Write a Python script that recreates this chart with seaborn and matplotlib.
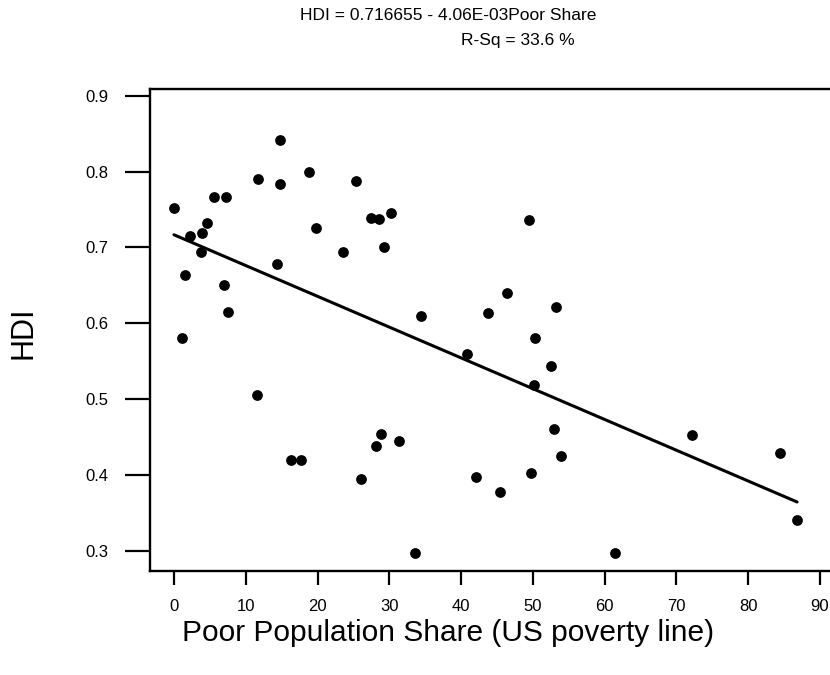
import matplotlib
matplotlib.use("Agg")
import numpy as np
import pandas as pd
import matplotlib.pyplot as plt
import seaborn as sns

# values
poor_share = [0.0, 2.2, 3.9, 4.6, 3.7, 5.6, 7.2, 11.7, 14.8, 14.8,
              18.8, 19.8, 25.4, 27.4, 28.6, 30.2, 29.3, 23.6, 14.3, 1.6,
              49.4, 46.4, 53.2, 34.4, 43.7, 50.3, 52.5, 40.8, 50.2, 52.9,
              28.8, 28.2, 31.4, 7.0, 7.5, 1.1, 11.5, 16.3, 17.7, 26.1,
              53.9, 72.1, 84.4, 86.8, 61.4, 33.6, 42.1, 45.4, 49.7]
hdi = [0.752, 0.715, 0.719, 0.732, 0.694, 0.766, 0.766, 0.790, 0.842, 0.783,
       0.800, 0.726, 0.788, 0.739, 0.737, 0.746, 0.701, 0.694, 0.678, 0.663,
       0.736, 0.640, 0.622, 0.609, 0.613, 0.580, 0.544, 0.559, 0.519, 0.461,
       0.454, 0.438, 0.445, 0.651, 0.615, 0.581, 0.505, 0.420, 0.420, 0.395,
       0.425, 0.452, 0.429, 0.341, 0.297, 0.297, 0.397, 0.378, 0.402]

# fitted regression from the chart header
intercept = 0.716655
slope = -4.06e-03
r_sq = 33.6

x_ticks = [0, 10, 20, 30, 40, 50, 60, 70, 80, 90]
y_ticks = [0.3, 0.4, 0.5, 0.6, 0.7, 0.8, 0.9]

sns.set_theme(style="white")
plt.rcParams['font.family'] = ['Liberation Sans', 'DejaVu Sans']
plt.rcParams['text.color'] = 'black'
plt.rcParams['axes.labelcolor'] = 'black'

df = pd.DataFrame({"poor": poor_share, "hdi": hdi})
fit_x = np.array([min(poor_share), max(poor_share)])
fit = pd.DataFrame({"poor": fit_x, "hdi": intercept + slope * fit_x})

fig = plt.figure(figsize=(8.3, 6.75), dpi=100)
ax = fig.add_axes([150 / 830, 1 - 571 / 675, 680 / 830, 482 / 675])

sns.scatterplot(data=df, x="poor", y="hdi", ax=ax, color="black",
                s=60, linewidth=0)
sns.lineplot(data=fit, x="poor", y="hdi", ax=ax, color="black", linewidth=2.2)

ax.set_xlim(-3.34, 91.39)
ax.set_ylim(0.2732, 0.9089)
ax.set_xticks(x_ticks)
ax.set_yticks(y_ticks)
ax.set_yticklabels([f"{v:.1f}" for v in y_ticks])

for side in ["left", "top", "bottom"]:
    ax.spines[side].set_visible(True)
    ax.spines[side].set_color("black")
    ax.spines[side].set_linewidth(1.7)
ax.spines["right"].set_visible(False)

ax.tick_params(axis="y", direction="out", length=18, width=1.6, pad=12,
               labelsize=12, colors="black", left=True)
ax.tick_params(axis="x", direction="out", length=10, width=1.6, pad=10,
               labelsize=12, colors="black", bottom=True)

ax.set_xlabel("Poor Population Share (US poverty line)", fontsize=21.5,
              va="center")
ax.xaxis.set_label_coords((448 - 150) / 680, (571 - 633) / 482)
ax.set_ylabel("HDI", fontsize=22, va="center")
ax.yaxis.set_label_coords((24 - 150) / 680, (571 - 333) / 482)

fig.text(448.5 / 830, 1 - 19.5 / 675,
         f"HDI = {intercept} - {abs(slope):.2E}Poor Share",
         ha="center", va="baseline", fontsize=12.5)
fig.text(518 / 830, 1 - 45 / 675, f"R-Sq = {r_sq} %",
         ha="center", va="baseline", fontsize=12.5)

fig.savefig("out.png", dpi=100)
